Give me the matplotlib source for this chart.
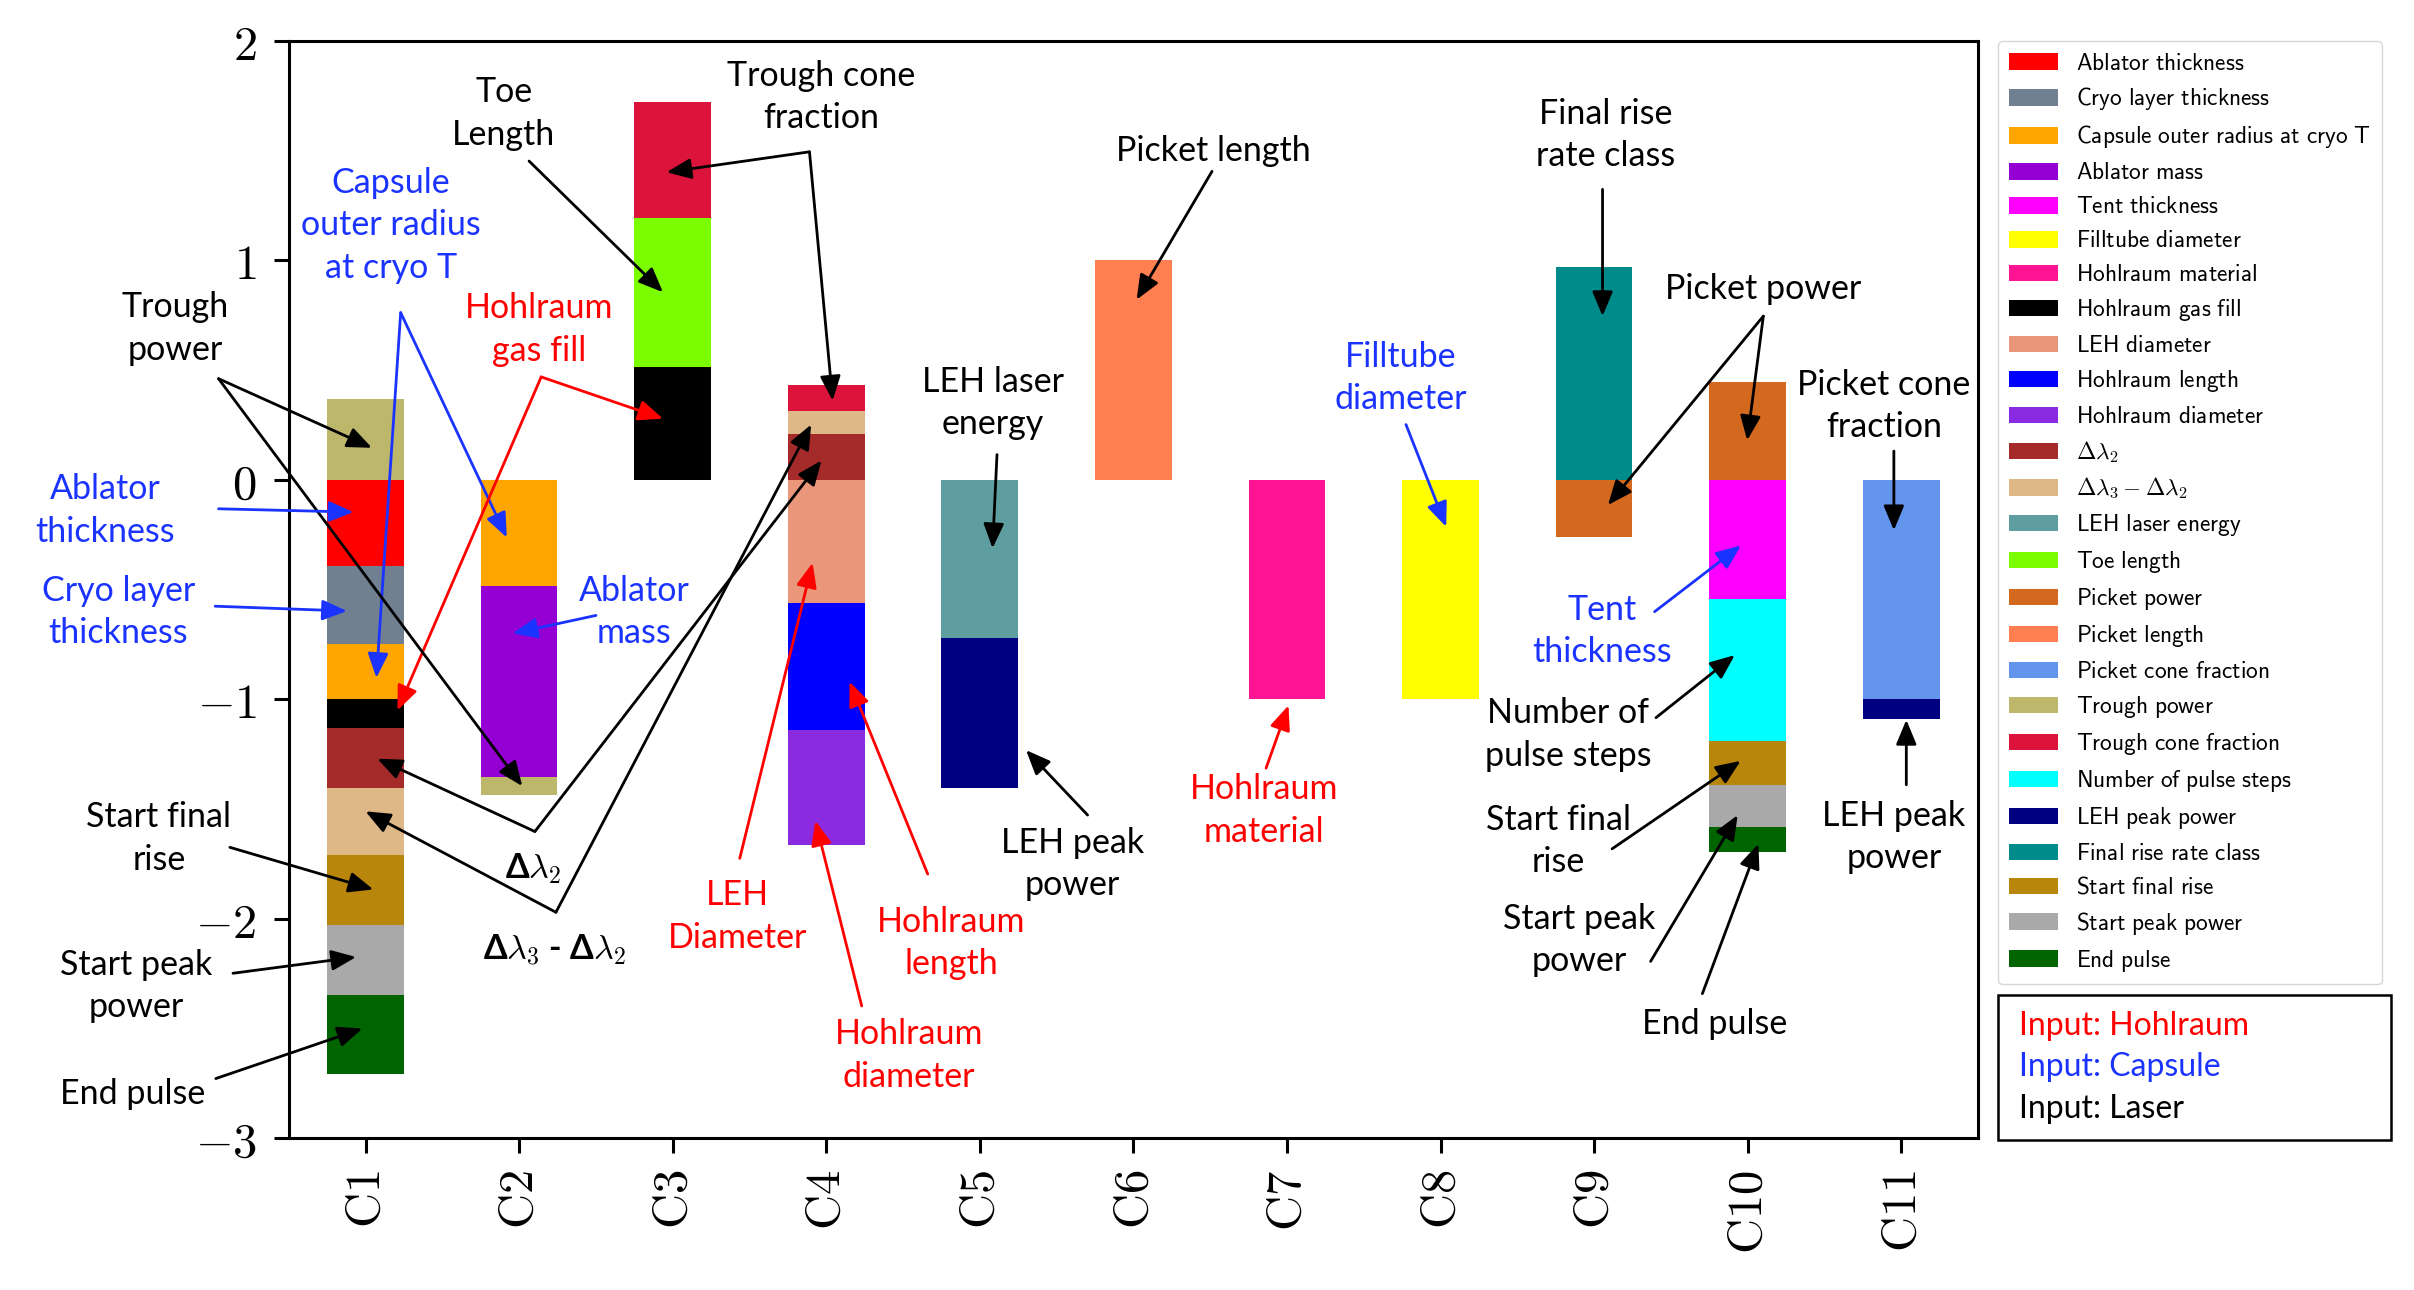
import numpy as np
import matplotlib.pyplot as plt
from matplotlib.patches import Patch, Rectangle

plt.rcParams['mathtext.fontset'] = 'cm'

components = ["C1", "C2", "C3", "C4", "C5", "C6", "C7", "C8", "C9", "C10", "C11"]

features = ["Ablator thickness", "Cryo layer thickness", "Capsule outer radius at cryo T",
            "Ablator mass", "Tent thickness", "Filltube diameter", "Hohlraum material",
            "Hohlraum gas fill", "LEH diameter", "Hohlraum length", "Hohlraum diameter",
            "dl2", "dl3-dl2", "LEH laser energy", "Toe length", "Picket power",
            "Picket length", "Picket cone fraction", "Trough power", "Trough cone fraction",
            "Number of pulse steps", "LEH peak power", "Final rise rate class",
            "Start final rise", "Start peak power", "End pulse"]

feature_colors = ["red", "slategray", "orange", "darkviolet", "magenta", "yellow", "deeppink",
                  "black", "darksalmon", "blue", "blueviolet", "brown", "burlywood",
                  "cadetblue", "lawngreen", "chocolate", "coral", "cornflowerblue",
                  "darkkhaki", "crimson", "cyan", "navy", "darkcyan", "darkgoldenrod",
                  "darkgray", "darkgreen"]

legend_labels = [r"$\mathsf{" + f.replace(" ", r"\ ") + "}$" for f in features]
legend_labels[features.index("dl2")] = r"$\Delta\lambda_2$"
legend_labels[features.index("dl3-dl2")] = r"$\Delta\lambda_3-\Delta\lambda_2$"

# contributions per component, stacked outward from zero in listed order
C1 = [("Trough power", 0.37), ("Ablator thickness", -0.395), ("Cryo layer thickness", -0.354),
      ("Capsule outer radius at cryo T", -0.251), ("Hohlraum gas fill", -0.133),
      ("dl2", -0.273), ("dl3-dl2", -0.302), ("Start final rise", -0.319),
      ("Start peak power", -0.322), ("End pulse", -0.361)]
C2 = [("Capsule outer radius at cryo T", -0.486), ("Ablator mass", -0.867), ("Trough power", -0.082)]
C3 = [("Hohlraum gas fill", 0.515), ("Toe length", 0.677), ("Trough cone fraction", 0.532)]
C4 = [("dl2", 0.21), ("dl3-dl2", 0.102), ("Trough cone fraction", 0.121),
      ("LEH diameter", -0.562), ("Hohlraum length", -0.578), ("Hohlraum diameter", -0.525)]
C5 = [("LEH laser energy", -0.723), ("LEH peak power", -0.683)]
C6 = [("Picket length", 1.0)]
C7 = [("Hohlraum material", -1.0)]
C8 = [("Filltube diameter", -1.0)]
C9 = [("Final rise rate class", 0.969), ("Picket power", -0.26)]
C10 = [("Picket power", 0.447), ("Tent thickness", -0.545), ("Number of pulse steps", -0.644),
       ("Start final rise", -0.201), ("Start peak power", -0.193), ("End pulse", -0.112)]
C11 = [("Picket cone fraction", -1.0), ("LEH peak power", -0.09)]
contributions = [C1, C2, C3, C4, C5, C6, C7, C8, C9, C10, C11]

yticks = [-3, -2, -1, 0, 1, 2]

BLUE = "#1a33ff"
RED = "red"
K = "black"
D2 = "Δ$\\lambda_2$"
D32 = "Δ$\\lambda_3$ - Δ$\\lambda_2$"

# text, text position, colour, arrow tail, arrow heads (data coords)
notes = [
    ("Toe\nLength", (0.90, 1.67), K, (1.065, 1.453), [(1.937, 0.855)]),
    ("Trough cone\nfraction", (2.97, 1.744), K, (2.891, 1.495), [(1.96, 1.402), (3.042, 0.361)]),
    ("Capsule\nouter radius\nat cryo T", (0.164, 1.16), BLUE, (0.229, 0.762), [(0.071, -0.903), (0.92, -0.263)]),
    ("Hohlraum\ngas fill", (1.132, 0.686), RED, (1.144, 0.469), [(1.937, 0.279), (0.208, -1.051)]),
    ("Trough\npower", (-1.239, 0.69), K, (-0.957, 0.461), [(0.042, 0.146), (1.021, -1.396)]),
    ("Ablator\nthickness", (-1.695, -0.139), BLUE, (-0.957, -0.132), [(-0.078, -0.147)]),
    ("Cryo layer\nthickness", (-1.608, -0.602), BLUE, (-0.979, -0.576), [(-0.121, -0.598)]),
    ("Start final\nrise", (-1.346, -1.634), K, (-0.883, -1.675), [(0.051, -1.867)]),
    ("Start peak\npower", (-1.496, -2.308), K, (-0.863, -2.249), [(-0.061, -2.175)]),
    ("End pulse", (-1.516, -2.799), K, (-0.975, -2.729), [(-0.02, -2.501)]),
    ("Ablator\nmass", (1.748, -0.603), BLUE, (1.501, -0.618), [(0.958, -0.70)]),
    (D2, (1.094, -1.774), K, (1.103, -1.603), [(0.077, -1.271), (2.969, 0.088)]),
    (D32, (1.231, -2.145), K, (1.24, -1.971), [(0.0, -1.511), (2.902, 0.252)]),
    ("LEH\nDiameter", (2.422, -1.991), RED, (2.437, -1.725), [(2.911, -0.378)]),
    ("Hohlraum\nlength", (3.813, -2.111), RED, (3.661, -1.797), [(3.152, -0.92)]),
    ("Hohlraum\ndiameter", (3.539, -2.623), RED, (3.231, -2.398), [(2.929, -1.554)]),
    ("LEH laser\nenergy", (4.083, 0.35), K, (4.112, 0.115), [(4.083, -0.312)]),
    ("LEH peak\npower", (4.605, -1.752), K, (4.702, -1.528), [(4.301, -1.232)]),
    ("Picket length", (5.521, 1.501), K, (5.512, 1.406), [(5.021, 0.821)]),
    ("Hohlraum\nmaterial", (5.85, -1.508), RED, (5.864, -1.314), [(6.01, -1.028)]),
    ("Filltube\ndiameter", (6.742, 0.464), BLUE, (6.775, 0.252), [(7.037, -0.214)]),
    ("Final rise\nrate class", (8.076, 1.573), K, (8.055, 1.324), [(8.055, 0.746)]),
    ("Picket power", (9.102, 0.87), K, (9.102, 0.746), [(8.997, 0.18), (8.09, -0.115)]),
    ("Picket cone\nfraction", (9.888, 0.336), K, (9.952, 0.131), [(9.952, -0.23)]),
    ("Tent\nthickness", (8.052, -0.688), BLUE, (8.394, -0.601), [(8.956, -0.299)]),
    ("Number of\npulse steps", (7.833, -1.16), K, (8.403, -1.084), [(8.916, -0.799)]),
    ("Start final\nrise", (7.768, -1.645), K, (8.117, -1.682), [(8.954, -1.281)]),
    ("Start peak\npower", (7.904, -2.098), K, (8.368, -2.195), [(8.935, -1.528)]),
    ("End pulse", (8.786, -2.48), K, (8.705, -2.342), [(9.07, -1.659)]),
    ("LEH peak\npower", (9.952, -1.629), K, (10.033, -1.39), [(10.033, -1.094)]),
]

fig = plt.figure(figsize=(24.14, 12.90), dpi=100)
ax = fig.add_axes([0.1196, 0.1178, 0.6998, 0.8504])

x = np.arange(len(components))
for i, comp in enumerate(contributions):
    pos, neg = 0.0, 0.0
    for feat, val in comp:
        c = feature_colors[features.index(feat)]
        if val >= 0:
            ax.bar(x[i], val, 0.5, bottom=pos, color=c, linewidth=0)
            pos += val
        else:
            ax.bar(x[i], val, 0.5, bottom=neg, color=c, linewidth=0)
            neg += val

ax.set_xlim(-0.5, len(components) - 0.5)
ax.set_ylim(-3, 2)
ax.set_xticks(x)
ax.set_xticklabels([r"$\mathrm{" + c + "}$" for c in components], rotation=90, fontsize=35)
ax.set_yticks(yticks)
ax.set_yticklabels([f"${v}$" for v in yticks], fontsize=35)
ax.tick_params(width=2.2, length=11, pad=12)
for sp in ax.spines.values():
    sp.set_linewidth(2.2)

for text, txy, col, tail, heads in notes:
    bold = "Δ" in text
    ax.text(txy[0], txy[1], text, color=col, ha="center", va="center",
            fontsize=24.5, family=["Lato", "DejaVu Sans"], linespacing=1.4,
            fontweight="bold" if bold else "normal")
    for h in heads:
        ax.annotate("", xy=h, xytext=tail,
                    arrowprops=dict(arrowstyle="-|>,head_length=0.6,head_width=0.25",
                                    color=col, lw=2, shrinkA=0, shrinkB=0,
                                    mutation_scale=25))

handles = [Patch(facecolor=c) for c in feature_colors]
ax.legend(handles, legend_labels, loc="upper left", bbox_to_anchor=(1.012, 1.0),
          borderaxespad=0, fontsize=16.8, labelspacing=0.47, handlelength=2.1,
          handleheight=0.72, handletextpad=0.8, borderpad=0.45)

# input category key
fig.patches.append(Rectangle((1998 / 2414, 1 - 1140 / 1290), 393 / 2414, 145 / 1290,
                             transform=fig.transFigure, fill=False, edgecolor="black", lw=1.8))
for txt, col, py in [("Input: Hohlraum", RED, 1025.7), ("Input: Capsule", BLUE, 1067.3),
                     ("Input: Laser", K, 1109)]:
    fig.text(2019 / 2414, 1 - py / 1290, txt, color=col, fontsize=23,
             family=["Lato", "DejaVu Sans"], va="center", ha="left")

fig.savefig("out.png", dpi=100)
